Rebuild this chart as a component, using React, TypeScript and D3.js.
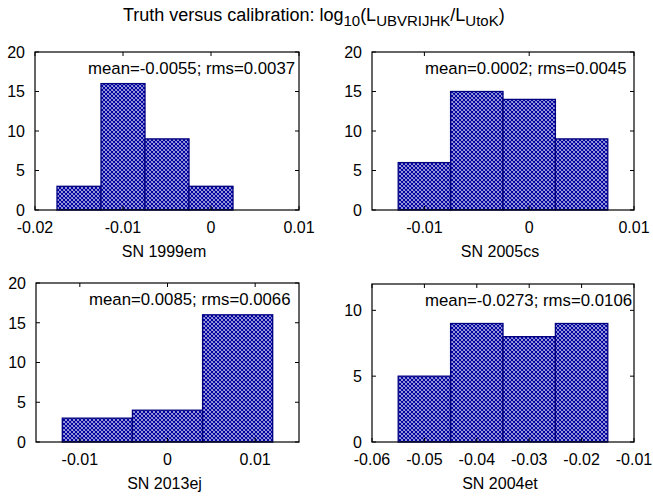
import * as d3 from "d3";

// histogram bins
const names = ["SN 1999em", "SN 2005cs", "SN 2013ej", "SN 2004et"];
const stats = [
  "mean=-0.0055; rms=0.0037",
  "mean=0.0002; rms=0.0045",
  "mean=0.0085; rms=0.0066",
  "mean=-0.0273; rms=0.0106",
];

const edges1999em = [-0.0175, -0.0125, -0.0075, -0.0025, 0.0025];
const counts1999em = [3, 16, 9, 3];
const edges2005cs = [-0.0125, -0.0075, -0.0025, 0.0025, 0.0075];
const counts2005cs = [6, 15, 14, 9];
const edges2013ej = [-0.012, -0.004, 0.004, 0.012];
const counts2013ej = [3, 4, 16];
const edges2004et = [-0.055, -0.045, -0.035, -0.025, -0.015];
const counts2004et = [5, 9, 8, 9];

const xDomains = [[-0.02, 0.01], [-0.015, 0.01], [-0.015, 0.015], [-0.06, -0.01]];
const yDomains = [[0, 20], [0, 20], [0, 20], [0, 12]];
const xTicks = [
  [-0.02, -0.01, 0, 0.01],
  [-0.01, 0, 0.01],
  [-0.01, 0, 0.01],
  [-0.06, -0.05, -0.04, -0.03, -0.02, -0.01],
];
const yTicks = [[0, 5, 10, 15, 20], [0, 5, 10, 15, 20], [0, 5, 10, 15, 20], [0, 5, 10]];

const edges = [edges1999em, edges2005cs, edges2013ej, edges2004et];
const counts = [counts1999em, counts2005cs, counts2013ej, counts2004et];

// frame boxes [left, top, right, bottom]
const frames = [
  [35, 52, 299, 210],
  [372, 52, 634, 210],
  [36, 283, 299, 442],
  [372, 284, 634, 442],
];

const font = "'Liberation Sans', Arial, sans-serif";
const fmt = (v: number) => (Math.abs(v) < 1e-12 ? "0" : String(+v.toFixed(3)));

function Panel({ i }: { i: number }) {
  const [l, t, r, b] = frames[i];
  const x = d3.scaleLinear().domain(xDomains[i]).range([l, r]);
  const y = d3.scaleLinear().domain(yDomains[i]).range([b, t]);
  const e = edges[i];
  const tl = 4;
  return (
    <g>
      {counts[i].map((c, k) => (
        <rect
          key={k}
          x={x(e[k])}
          y={y(c)}
          width={x(e[k + 1]) - x(e[k])}
          height={y(0) - y(c)}
          fill="url(#hatch)"
          stroke="#000080"
          strokeWidth={1.3}
        />
      ))}
      {xTicks[i].map((v) => (
        <g key={"x" + v}>
          <line x1={x(v)} x2={x(v)} y1={b} y2={b - tl} stroke="#000" />
          <line x1={x(v)} x2={x(v)} y1={t} y2={t + tl} stroke="#000" />
          <text x={x(v)} y={b + 23} textAnchor="middle" fontSize={16}>{fmt(v)}</text>
        </g>
      ))}
      {yTicks[i].map((v) => (
        <g key={"y" + v}>
          <line x1={l} x2={l + tl} y1={y(v)} y2={y(v)} stroke="#000" />
          <line x1={r} x2={r - tl} y1={y(v)} y2={y(v)} stroke="#000" />
          <text x={l - 10} y={y(v)} dy="0.36em" textAnchor="end" fontSize={16}>{v}</text>
        </g>
      ))}
      <rect x={l} y={t} width={r - l} height={b - t} fill="none" stroke="#000" strokeWidth={1.2} />
      <text x={l + 53} y={t + 22} fontSize={16.8}>{stats[i]}</text>
      <text x={(l + r) / 2 - 3} y={b + 47} textAnchor="middle" fontSize={16}>{names[i]}</text>
    </g>
  );
}

export default function App() {
  return (
    <svg
      width={653}
      height={497}
      style={{ position: "absolute", left: 0, top: 0, background: "#fff" }}
      fontFamily={font}
      fontSize={15}
    >
      <defs>
        <pattern id="hatch" width={4} height={4} patternUnits="userSpaceOnUse">
          <rect width={4} height={4} fill="#fff" />
          <path d="M0,0L4,4M4,0L0,4M-1,3L1,5M3,-1L5,1M-1,1L1,-1M3,5L5,3" stroke="#0000a0" strokeWidth={1.3} />
        </pattern>
      </defs>
      <text x={123} y={21} fontSize={18}>
        Truth versus calibration: log
        <tspan fontSize={15} dy={5}>10</tspan>
        <tspan dy={-5}>(L</tspan>
        <tspan fontSize={15} dy={5}>UBVRIJHK</tspan>
        <tspan dy={-5}>/L</tspan>
        <tspan fontSize={15} dy={5}>UtoK</tspan>
        <tspan dy={-5}>)</tspan>
      </text>
      {[0, 1, 2, 3].map((i) => (
        <Panel key={i} i={i} />
      ))}
    </svg>
  );
}
